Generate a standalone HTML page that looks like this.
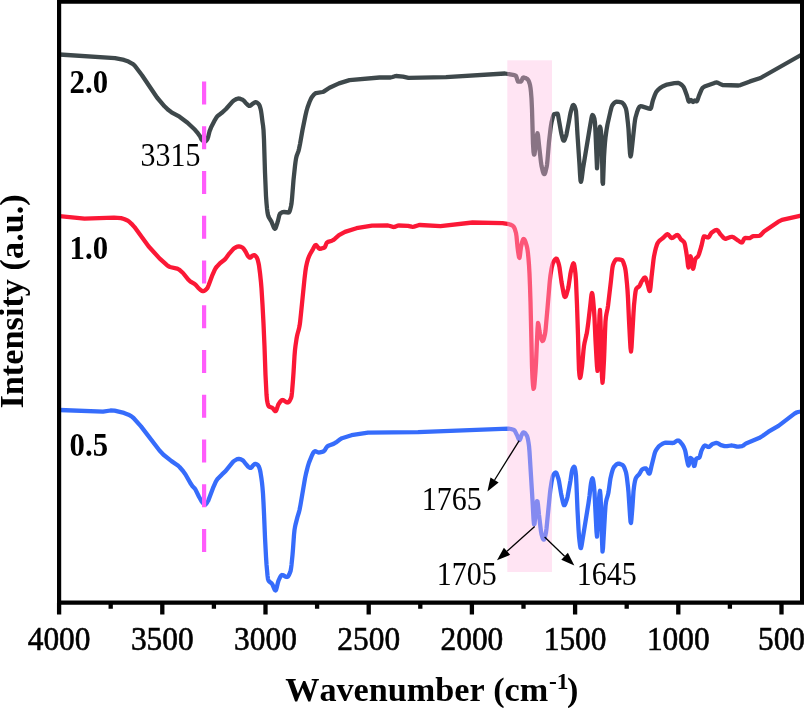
<!DOCTYPE html>
<html><head><meta charset="utf-8"><title>FTIR spectra</title>
<style>html,body{margin:0;padding:0;background:#fff}svg{display:block;will-change:transform;opacity:.999}.ls{font-family:"Liberation Serif",serif;font-kerning:none;fill:#000}</style></head>
<body>
<svg width="804" height="708" viewBox="0 0 804 708">
<rect width="804" height="708" fill="#fff"/>
<path d="M59.5 54.5 L115.0 58.1 L124.0 59.9 L128.5 61.6 L132.5 63.8 L133.5 64.5 L135.0 66.0 L142.0 75.3 L157.0 97.5 L164.5 106.3 L168.5 110.1 L171.5 112.3 L179.5 116.7 L187.5 122.7 L195.0 129.8 L198.0 133.4 L200.0 136.2 L201.0 138.5 L201.5 139.4 L202.5 140.4 L203.5 141.1 L204.0 141.3 L204.5 141.5 L205.0 141.5 L205.5 141.3 L206.0 140.9 L207.0 139.6 L207.5 138.8 L208.0 137.4 L209.5 131.4 L211.0 127.6 L215.0 119.8 L216.5 117.4 L217.5 116.2 L219.0 114.9 L221.5 113.1 L226.0 109.0 L232.5 101.6 L234.0 100.3 L236.5 99.0 L238.0 98.6 L239.0 98.5 L240.0 98.7 L242.5 99.7 L243.0 100.0 L244.0 100.9 L245.5 102.7 L248.0 105.1 L248.5 105.5 L249.0 105.8 L249.5 105.9 L250.0 105.8 L250.5 105.6 L252.5 103.8 L254.5 102.6 L255.0 102.3 L255.5 102.2 L256.0 102.2 L256.5 102.4 L257.0 102.6 L258.0 103.4 L259.0 104.5 L259.5 105.4 L260.0 106.8 L260.5 108.6 L261.0 110.7 L261.5 114.0 L262.5 121.9 L263.0 125.3 L263.5 129.9 L264.0 139.8 L265.0 172.5 L266.0 196.1 L266.5 203.1 L267.0 208.4 L267.5 212.5 L268.0 215.0 L268.5 216.5 L269.0 217.6 L271.0 220.8 L271.5 221.8 L273.5 226.8 L274.0 227.8 L274.5 228.5 L275.0 228.8 L275.5 228.3 L276.0 227.2 L277.5 222.5 L278.0 220.7 L279.0 216.4 L279.5 214.7 L280.0 213.8 L281.0 213.0 L282.0 212.4 L283.0 212.1 L284.0 212.0 L288.5 212.5 L289.0 212.4 L289.5 211.6 L290.0 210.2 L291.0 206.2 L291.5 203.5 L292.0 198.8 L293.5 180.0 L295.0 166.0 L295.5 162.0 L296.0 158.7 L296.5 156.5 L297.0 154.9 L298.5 150.9 L299.0 149.0 L300.0 144.1 L302.5 130.0 L305.5 115.2 L306.5 111.0 L307.5 107.5 L309.5 102.0 L311.0 98.6 L312.0 96.9 L313.5 95.1 L314.5 94.1 L315.5 93.3 L316.0 93.1 L322.5 92.0 L324.0 91.4 L329.5 87.8 L339.0 83.4 L349.5 80.1 L379.5 77.5 L390.5 77.5 L392.5 77.0 L395.0 76.2 L396.0 76.0 L403.0 76.6 L408.5 77.9 L446.0 77.2 L505.0 73.5 L513.0 74.8 L515.0 75.4 L515.5 75.6 L516.0 76.0 L516.5 77.1 L517.5 80.4 L518.0 81.5 L518.5 81.7 L520.5 81.7 L521.0 81.6 L521.5 80.9 L522.5 78.5 L523.0 77.7 L523.5 77.5 L524.5 77.7 L525.5 78.0 L527.0 78.8 L527.5 79.2 L528.0 79.7 L528.5 80.6 L529.0 81.7 L529.5 83.2 L530.0 85.0 L530.5 87.8 L531.0 92.3 L531.5 98.7 L532.0 109.4 L533.0 143.6 L533.5 151.8 L534.0 154.7 L534.5 154.2 L535.0 150.5 L535.5 145.7 L536.5 138.0 L537.0 134.7 L537.5 133.3 L538.0 135.3 L539.0 145.0 L541.0 162.4 L541.5 165.7 L542.5 170.1 L543.0 172.0 L543.5 173.4 L544.0 174.1 L544.5 174.1 L545.0 173.2 L545.5 171.7 L546.5 167.6 L547.0 164.8 L547.5 160.0 L549.0 141.9 L550.5 129.1 L551.0 125.5 L551.5 122.6 L552.5 118.4 L553.0 116.5 L553.5 115.1 L554.0 114.3 L554.5 114.1 L556.5 113.7 L557.5 113.7 L558.0 114.9 L561.0 131.8 L561.5 134.2 L562.5 138.1 L563.0 139.8 L563.5 140.7 L564.0 140.7 L564.5 140.0 L565.0 138.9 L566.0 136.1 L566.5 134.2 L569.0 121.2 L570.0 115.4 L570.5 112.9 L572.0 107.4 L572.5 106.0 L573.0 105.2 L573.5 105.0 L574.0 105.4 L574.5 106.2 L575.0 107.4 L575.5 108.9 L576.0 111.2 L576.5 117.6 L577.5 135.0 L579.5 164.8 L580.0 173.8 L580.5 180.6 L581.0 181.8 L581.5 179.9 L582.0 176.6 L583.0 168.7 L589.5 129.4 L591.5 117.9 L592.0 115.8 L592.5 115.0 L593.0 115.3 L593.5 116.1 L594.0 117.4 L594.5 119.2 L595.0 122.8 L595.5 132.3 L597.0 168.3 L597.5 161.6 L598.0 149.0 L598.5 140.6 L599.0 134.0 L599.5 128.8 L600.0 126.7 L600.5 128.0 L601.0 131.6 L601.5 137.3 L602.0 152.1 L602.5 182.1 L603.0 183.8 L604.0 157.2 L604.5 149.0 L605.0 142.7 L605.5 137.5 L606.5 130.1 L607.5 124.4 L610.5 111.1 L611.5 107.3 L612.0 105.9 L612.5 105.0 L614.0 103.2 L615.0 102.3 L615.5 102.0 L616.0 101.8 L616.5 101.7 L619.0 101.9 L621.5 102.4 L622.0 102.6 L622.5 102.9 L623.0 103.4 L623.5 103.9 L624.5 105.5 L625.5 107.6 L626.0 108.9 L626.5 111.4 L627.0 114.9 L628.0 123.8 L628.5 129.0 L629.5 146.0 L630.0 153.4 L630.5 156.5 L631.0 155.1 L631.5 151.7 L634.5 124.0 L635.0 120.2 L635.5 117.5 L637.0 112.3 L638.0 109.5 L638.5 108.4 L639.0 107.5 L639.5 106.8 L640.0 106.4 L640.5 106.2 L642.0 106.4 L649.0 108.6 L650.5 108.8 L651.0 108.1 L651.5 106.4 L652.5 101.8 L653.0 100.0 L655.0 94.6 L656.0 92.4 L656.5 91.6 L658.0 89.8 L660.0 88.1 L662.5 86.5 L667.0 84.6 L674.5 83.2 L678.0 83.0 L678.5 83.0 L679.5 83.4 L680.5 84.0 L682.5 85.7 L683.0 86.2 L683.5 86.9 L684.0 87.8 L685.0 90.2 L687.0 95.7 L688.0 99.5 L688.5 101.0 L689.0 101.6 L689.5 101.3 L690.5 100.2 L691.0 100.0 L691.5 100.3 L692.5 101.7 L693.0 102.0 L693.5 101.8 L694.5 100.7 L695.0 100.4 L695.5 100.6 L696.0 101.1 L696.5 101.4 L697.0 101.1 L697.5 100.1 L699.0 95.6 L701.5 89.7 L702.0 88.8 L702.5 88.0 L703.0 87.5 L704.5 86.6 L714.5 82.9 L716.0 82.5 L717.0 82.5 L718.0 82.8 L721.5 84.6 L722.5 85.0 L738.5 85.5 L740.5 85.1 L750.0 81.4 L760.5 78.0 L801.0 55.0" fill="none" stroke="#3e484b" stroke-width="4.3" stroke-linejoin="round" stroke-linecap="butt"/>
<path d="M59.5 216.2 L84.5 218.7 L114.0 217.6 L121.0 218.1 L124.0 219.0 L127.5 220.5 L129.0 221.5 L131.5 223.8 L134.5 227.1 L148.5 246.2 L159.5 258.4 L167.0 265.2 L168.5 266.3 L170.0 267.0 L177.0 268.6 L178.0 269.0 L179.5 269.9 L183.0 273.0 L188.5 279.8 L189.5 280.8 L191.0 281.9 L194.5 283.9 L195.5 284.7 L198.5 288.2 L201.0 290.3 L202.0 291.0 L202.5 291.1 L203.0 291.2 L203.5 291.1 L204.0 291.0 L205.0 290.4 L206.5 289.1 L207.0 288.6 L207.5 287.8 L208.5 285.5 L212.5 274.8 L214.5 270.3 L215.5 268.4 L217.0 266.4 L220.0 263.3 L224.5 259.8 L225.5 258.7 L229.5 253.3 L233.0 249.3 L234.0 248.4 L236.5 247.0 L237.5 246.6 L238.5 246.4 L239.5 246.5 L240.5 246.7 L242.5 247.7 L243.0 248.0 L243.5 248.5 L244.5 249.9 L246.0 252.4 L247.5 255.4 L248.0 256.2 L249.0 257.1 L249.5 257.5 L250.0 257.7 L250.5 257.6 L251.0 257.2 L252.0 256.0 L253.0 255.5 L253.5 255.3 L254.0 255.2 L254.5 255.2 L255.0 255.5 L255.5 255.9 L256.5 257.1 L257.0 257.9 L257.5 259.2 L258.0 260.9 L258.5 263.0 L259.0 265.5 L260.0 273.1 L261.0 282.5 L261.5 288.7 L262.5 304.7 L263.5 323.6 L264.5 346.5 L265.5 375.0 L266.5 394.5 L267.0 400.0 L267.5 402.7 L268.0 404.7 L268.5 405.9 L269.0 406.5 L269.5 406.8 L272.0 407.7 L272.5 408.0 L273.0 408.5 L274.5 410.6 L275.0 411.1 L275.5 411.2 L276.0 410.9 L276.5 409.9 L278.0 405.4 L278.5 404.2 L280.0 402.0 L281.0 400.8 L281.5 400.4 L282.0 400.1 L282.5 400.0 L283.0 400.1 L283.5 400.3 L286.0 402.0 L286.5 402.2 L287.0 402.4 L287.5 402.5 L288.0 402.4 L288.5 402.1 L289.0 401.7 L289.5 401.0 L290.0 400.2 L291.0 398.1 L291.5 396.4 L292.0 392.2 L293.0 380.0 L293.5 372.8 L294.5 356.2 L295.0 350.0 L295.5 345.7 L296.5 339.0 L297.0 336.2 L297.5 334.0 L299.0 328.7 L299.5 326.2 L300.0 322.9 L301.0 313.4 L304.5 278.9 L305.5 270.6 L306.0 267.3 L307.0 262.6 L308.0 259.1 L309.0 256.4 L310.0 254.3 L313.0 249.1 L314.5 246.2 L315.0 245.5 L315.5 245.1 L316.0 245.0 L316.5 245.4 L317.0 245.9 L318.5 248.1 L319.0 248.6 L319.5 248.8 L321.5 248.5 L323.5 247.9 L324.5 247.5 L325.0 246.9 L326.5 243.2 L327.0 242.5 L328.0 241.9 L332.0 240.7 L333.0 240.2 L335.0 238.7 L339.0 235.2 L345.0 231.9 L356.5 228.2 L372.0 225.6 L388.0 225.5 L390.0 226.0 L392.5 226.8 L393.5 227.0 L394.5 226.9 L397.5 225.7 L398.5 225.5 L408.0 225.8 L411.5 226.7 L412.5 226.8 L414.0 226.6 L418.5 225.2 L420.0 225.0 L440.5 226.2 L472.5 222.5 L502.5 223.1 L509.0 224.2 L511.0 224.9 L512.5 225.7 L513.0 226.0 L513.5 226.5 L514.0 227.3 L514.5 228.3 L515.0 229.6 L516.0 233.0 L516.5 236.3 L517.5 246.8 L518.0 251.0 L518.5 254.3 L519.0 257.1 L519.5 257.9 L520.0 255.1 L520.5 250.6 L521.0 247.0 L522.0 242.7 L522.5 240.9 L523.0 239.6 L523.5 239.0 L524.0 239.1 L524.5 239.7 L525.0 240.6 L525.5 241.9 L526.5 245.1 L527.0 247.0 L527.5 249.7 L528.0 253.6 L528.5 258.8 L529.0 265.0 L529.5 273.9 L530.0 286.5 L530.5 301.7 L532.0 366.3 L532.5 378.4 L533.0 385.4 L533.5 388.9 L534.0 387.9 L534.5 383.9 L535.5 371.4 L536.0 362.8 L537.5 329.1 L538.0 323.0 L538.5 324.4 L539.5 331.2 L540.0 334.0 L541.0 337.7 L541.5 339.3 L542.0 340.4 L542.5 341.0 L543.0 340.7 L543.5 339.8 L544.0 338.2 L545.0 334.0 L545.5 330.6 L547.5 308.2 L549.5 284.4 L550.0 279.2 L550.5 275.0 L551.5 268.9 L552.0 266.4 L552.5 264.4 L553.0 263.0 L554.0 261.0 L555.0 259.5 L555.5 259.0 L556.0 258.7 L556.5 258.6 L557.0 259.1 L557.5 260.1 L558.5 263.2 L559.0 265.0 L559.5 267.4 L561.5 282.0 L563.5 292.9 L564.0 295.0 L564.5 296.5 L565.0 297.0 L565.5 296.7 L566.0 295.7 L566.5 294.4 L568.0 289.0 L568.5 286.7 L570.5 273.4 L571.0 271.0 L572.0 267.0 L572.5 265.3 L573.0 264.0 L573.5 263.4 L574.0 264.0 L574.5 266.2 L575.0 269.7 L575.5 274.1 L576.0 280.8 L577.0 305.0 L578.0 335.0 L578.5 354.9 L579.0 370.0 L579.5 375.6 L580.0 378.0 L580.5 376.8 L581.0 374.1 L582.0 366.8 L583.5 350.2 L584.0 346.0 L584.5 343.1 L586.5 334.6 L587.0 332.0 L588.0 324.9 L590.5 303.5 L591.0 298.6 L591.5 294.6 L592.0 293.0 L592.5 294.5 L593.0 298.5 L594.0 310.0 L594.5 318.1 L595.5 340.4 L596.5 358.6 L597.0 366.6 L597.5 370.9 L598.0 362.5 L598.5 342.9 L599.5 315.8 L600.0 310.0 L600.5 321.2 L602.0 377.0 L602.5 382.8 L603.0 378.3 L604.0 360.0 L604.5 347.5 L605.0 332.4 L605.5 321.2 L606.0 316.6 L606.5 313.6 L607.5 308.9 L608.0 306.0 L611.0 280.5 L612.0 271.0 L612.5 267.3 L613.0 265.0 L614.0 262.5 L615.0 260.7 L615.5 260.0 L616.0 259.5 L616.5 259.3 L619.0 259.4 L621.5 259.9 L622.0 260.1 L622.5 260.6 L623.0 261.5 L623.5 262.7 L624.5 265.7 L625.0 267.5 L625.5 270.0 L626.0 273.7 L627.0 283.9 L627.5 290.0 L628.0 298.4 L629.0 320.3 L630.0 339.7 L630.5 348.0 L631.0 351.5 L631.5 347.6 L633.5 312.9 L634.0 305.3 L635.0 295.6 L635.5 291.9 L636.0 289.4 L636.5 288.4 L637.0 287.9 L638.5 286.9 L639.0 286.5 L639.5 285.9 L640.0 285.0 L641.5 281.7 L643.5 278.6 L644.0 278.0 L644.5 277.6 L645.0 277.5 L645.5 277.9 L646.0 279.0 L647.5 283.8 L648.0 285.6 L649.0 289.8 L649.5 291.1 L650.0 290.8 L650.5 287.5 L651.5 277.2 L653.5 259.8 L654.0 256.4 L655.0 251.6 L656.0 247.6 L657.0 244.5 L657.5 243.4 L658.0 242.5 L659.0 241.2 L660.5 239.9 L663.0 238.0 L665.5 235.4 L666.5 234.6 L667.0 234.3 L667.5 234.2 L668.0 234.4 L668.5 234.8 L670.5 237.2 L671.0 237.7 L671.5 238.0 L672.0 238.0 L672.5 237.9 L673.5 237.3 L676.0 235.5 L676.5 235.2 L677.0 235.1 L677.5 235.0 L678.0 235.2 L678.5 235.7 L680.5 238.9 L681.0 239.5 L682.0 240.3 L683.0 241.1 L683.5 241.5 L684.0 242.1 L684.5 243.0 L685.0 244.9 L686.0 250.4 L687.0 256.8 L688.0 265.6 L688.5 267.5 L689.0 265.7 L690.0 258.0 L690.5 256.2 L691.0 257.6 L691.5 260.6 L692.0 264.4 L692.5 267.4 L693.0 268.8 L693.5 267.8 L694.0 265.6 L695.0 260.3 L695.5 258.8 L696.0 258.1 L697.5 256.9 L698.0 256.2 L698.5 255.3 L699.0 254.0 L701.0 247.5 L701.5 245.7 L703.0 239.0 L703.5 237.3 L704.0 236.4 L704.5 236.3 L705.5 236.6 L707.0 237.3 L707.5 237.4 L708.0 237.5 L708.5 237.3 L709.0 236.8 L711.0 233.4 L711.5 232.7 L714.0 230.9 L715.0 230.4 L716.0 230.1 L716.5 230.0 L717.0 230.0 L717.5 230.3 L718.0 230.8 L720.5 234.4 L723.5 237.7 L724.5 238.4 L725.0 238.7 L725.5 238.8 L726.5 238.6 L730.5 237.0 L731.5 236.8 L732.0 236.8 L732.5 236.9 L733.5 237.3 L738.0 240.4 L740.0 241.9 L741.0 242.4 L741.5 242.5 L742.0 242.4 L742.5 241.9 L744.0 239.0 L744.5 238.3 L745.0 238.0 L749.0 238.2 L749.5 238.2 L750.0 238.1 L752.0 236.7 L752.5 236.4 L753.0 236.2 L759.0 235.8 L759.5 235.7 L760.0 235.5 L761.0 234.7 L764.0 231.5 L778.0 221.9 L782.0 219.9 L801.0 215.6 L801.8 215.5" fill="none" stroke="#fb1836" stroke-width="4.3" stroke-linejoin="round" stroke-linecap="butt"/>
<path d="M59.5 410.0 L103.0 411.7 L110.5 410.5 L114.5 410.7 L124.0 412.9 L128.5 414.7 L131.5 416.4 L133.5 418.0 L141.0 426.4 L159.5 450.5 L163.5 454.7 L171.5 461.1 L177.5 465.2 L179.5 467.0 L183.0 471.0 L185.5 474.5 L191.0 484.1 L192.5 486.2 L194.5 488.2 L195.0 488.8 L195.5 489.6 L199.0 496.8 L201.5 501.2 L202.5 502.6 L204.0 504.2 L204.5 504.6 L205.0 504.7 L205.5 504.5 L206.0 504.1 L207.0 502.7 L208.0 501.0 L208.5 500.1 L213.5 486.8 L215.5 482.3 L216.5 480.4 L217.5 479.0 L222.0 474.4 L225.5 471.2 L233.0 461.9 L234.0 461.0 L236.5 459.5 L237.5 459.1 L238.5 458.9 L239.5 459.0 L240.5 459.2 L243.0 460.5 L243.5 461.0 L246.0 464.2 L248.0 466.5 L248.5 466.9 L249.0 467.3 L250.0 467.8 L250.5 467.9 L251.0 467.8 L251.5 467.4 L252.5 466.1 L254.0 464.6 L254.5 464.2 L255.0 463.9 L255.5 463.9 L256.5 464.2 L257.5 464.8 L258.0 465.2 L258.5 465.9 L259.0 467.0 L259.5 468.3 L260.0 470.0 L260.5 472.5 L261.5 478.9 L262.0 482.8 L262.5 487.6 L263.0 493.9 L263.5 502.8 L264.0 513.3 L265.0 537.5 L266.0 556.7 L266.5 564.4 L267.5 575.5 L268.0 579.1 L268.5 580.5 L269.0 581.2 L269.5 581.7 L271.5 583.2 L272.0 583.8 L272.5 584.6 L274.5 589.4 L275.0 590.2 L275.5 590.5 L276.0 590.0 L276.5 588.6 L278.0 582.3 L278.5 580.6 L280.0 577.4 L280.5 576.4 L281.0 575.7 L281.5 575.2 L282.0 575.0 L282.5 575.1 L283.5 575.4 L285.5 576.6 L286.5 576.9 L287.0 577.0 L287.5 576.9 L288.0 576.5 L288.5 575.8 L289.0 574.9 L290.0 572.6 L290.5 571.2 L291.0 568.8 L291.5 564.9 L292.5 555.0 L293.0 549.0 L294.0 534.9 L294.5 530.0 L295.0 527.0 L295.5 524.6 L297.5 516.9 L299.0 512.0 L299.5 510.0 L300.5 504.8 L305.0 478.4 L306.0 473.6 L308.0 465.8 L309.0 462.6 L312.0 455.2 L313.0 453.2 L313.5 452.4 L314.0 451.8 L314.5 451.4 L315.0 451.2 L315.5 451.3 L318.0 452.4 L318.5 452.5 L320.0 452.4 L322.0 451.9 L323.5 451.4 L324.0 451.1 L324.5 450.6 L326.5 447.4 L327.0 446.7 L327.5 446.2 L329.0 445.5 L333.5 443.9 L336.0 442.4 L340.5 439.1 L342.0 438.2 L351.5 435.2 L368.0 432.6 L418.0 432.2 L508.5 428.6 L511.0 429.0 L513.5 429.8 L514.0 430.0 L514.5 430.4 L515.0 431.1 L517.5 436.1 L518.5 438.6 L519.0 439.5 L519.5 440.0 L520.0 439.6 L520.5 438.3 L521.0 436.6 L521.5 435.2 L522.5 433.4 L523.0 432.7 L523.5 432.4 L524.0 432.5 L524.5 432.7 L525.0 433.1 L525.5 433.6 L526.5 435.1 L527.0 436.0 L527.5 437.4 L528.0 439.6 L528.5 442.5 L529.0 446.0 L529.5 451.7 L532.5 500.3 L533.5 518.9 L534.0 524.4 L534.5 524.0 L535.0 519.0 L535.5 512.9 L536.5 504.1 L537.0 501.1 L537.5 501.5 L538.0 504.9 L539.0 515.0 L541.0 531.4 L541.5 534.2 L542.5 537.6 L543.0 538.8 L543.5 539.6 L544.0 539.6 L544.5 538.6 L545.0 536.9 L546.0 532.2 L546.5 528.5 L550.0 493.0 L550.5 488.8 L551.5 482.4 L552.0 479.7 L552.5 477.4 L553.0 475.7 L553.5 474.7 L554.5 473.3 L555.0 472.8 L555.5 472.5 L556.0 472.6 L556.5 473.2 L557.0 474.3 L558.5 479.0 L559.0 481.2 L561.0 493.2 L561.5 495.8 L563.0 502.5 L563.5 504.2 L564.0 505.2 L564.5 505.2 L565.0 504.5 L565.5 503.4 L567.0 499.0 L567.5 497.0 L570.5 480.3 L571.5 473.7 L572.0 471.0 L572.5 469.2 L573.0 468.1 L573.5 467.2 L574.0 466.7 L574.5 467.0 L575.0 468.6 L575.5 471.3 L576.0 475.4 L576.5 485.3 L577.5 510.0 L578.5 528.9 L579.0 536.2 L579.5 541.0 L580.0 545.1 L580.5 547.8 L581.0 548.1 L581.5 546.1 L588.5 503.1 L589.5 496.0 L590.5 487.0 L591.0 483.2 L591.5 480.9 L592.0 479.1 L592.5 478.3 L593.0 479.5 L593.5 482.4 L594.0 486.5 L594.5 492.1 L596.5 531.8 L597.0 536.7 L597.5 529.6 L598.0 516.2 L598.5 507.0 L599.0 499.3 L599.5 493.3 L600.0 490.8 L600.5 495.4 L601.0 505.6 L601.5 519.4 L602.0 540.5 L602.5 551.7 L603.0 548.0 L605.0 513.4 L605.5 506.1 L606.0 502.1 L606.5 499.7 L608.0 494.6 L608.5 492.2 L610.0 481.4 L610.5 478.2 L611.5 473.9 L612.5 470.4 L613.0 469.0 L613.5 467.8 L614.0 467.0 L615.5 465.3 L616.5 464.4 L617.5 463.8 L618.0 463.7 L619.0 463.7 L620.5 464.1 L622.5 465.0 L623.0 465.4 L623.5 466.1 L624.0 466.9 L625.0 469.3 L626.0 472.4 L626.5 475.0 L627.0 478.4 L628.0 487.1 L628.5 492.3 L630.0 515.0 L630.5 521.7 L631.0 523.0 L631.5 518.7 L632.5 506.1 L633.5 491.3 L634.0 486.9 L634.5 483.6 L635.0 481.0 L635.5 479.1 L636.0 477.9 L636.5 477.1 L637.5 475.9 L639.0 474.5 L639.5 473.8 L641.5 470.2 L642.0 469.6 L642.5 469.2 L644.0 468.6 L645.0 468.4 L645.5 468.3 L646.0 468.4 L646.5 468.9 L647.0 469.8 L648.0 472.1 L648.5 473.1 L649.0 473.7 L649.5 473.6 L650.0 472.4 L650.5 470.5 L651.5 466.0 L654.5 454.0 L655.0 452.4 L655.5 451.2 L657.0 448.7 L658.5 446.7 L659.5 445.7 L662.5 443.8 L664.5 442.9 L666.0 442.6 L673.0 443.0 L673.5 442.9 L674.0 442.7 L676.5 441.0 L677.0 440.8 L677.5 440.6 L678.0 440.5 L678.5 440.6 L679.0 440.8 L680.0 441.7 L682.0 444.1 L683.0 445.5 L684.0 447.5 L685.0 450.0 L685.5 452.0 L687.0 460.0 L688.0 464.5 L688.5 465.5 L689.0 464.3 L690.0 459.2 L690.5 458.0 L691.0 458.2 L691.5 458.6 L692.5 460.0 L693.0 461.6 L693.5 464.1 L694.0 466.0 L694.5 465.9 L695.0 464.0 L695.5 461.4 L696.0 459.2 L696.5 458.6 L697.0 458.3 L698.5 457.9 L699.0 457.7 L699.5 457.2 L700.0 455.9 L701.0 452.2 L701.5 450.6 L703.0 447.6 L703.5 446.8 L704.0 446.1 L704.5 445.7 L705.0 445.5 L705.5 445.6 L707.5 446.7 L708.0 446.9 L708.5 447.0 L709.0 446.9 L709.5 446.6 L712.0 444.3 L712.5 444.0 L715.0 443.2 L716.5 443.0 L717.0 443.0 L717.5 443.1 L718.5 443.6 L721.0 445.2 L724.5 446.1 L727.0 446.2 L731.0 445.5 L732.0 445.5 L734.0 445.9 L737.0 446.7 L738.5 446.7 L742.0 446.2 L743.0 445.7 L746.0 443.4 L759.0 438.1 L762.5 436.0 L768.5 431.7 L778.5 425.9 L794.5 413.6 L796.5 412.5 L798.0 412.0 L801.0 411.5 L801.8 411.5" fill="none" stroke="#366cfb" stroke-width="4.3" stroke-linejoin="round" stroke-linecap="butt"/>
<rect x="507.3" y="60.3" width="44.7" height="511.7" fill="#ffbae0" fill-opacity="0.39"/>
<path d="M204.1 81.4V552.3" stroke="#ff5cfb" stroke-width="4.2" stroke-dasharray="23 21.77" fill="none"/>
<path d="M57 0H804V604.8H57Z M61.2 3.8V600.6H800V3.8Z" fill="#000" fill-rule="evenodd"/>
<path d="M59.1 603V614.6 M162.3 603V614.6 M265.5 603V614.6 M368.7 603V614.6 M471.9 603V614.6 M575.1 603V614.6 M678.3 603V614.6 M781.5 603V614.6 M110.7 603V608.8 M213.9 603V608.8 M317.1 603V608.8 M420.3 603V608.8 M523.5 603V608.8 M626.7 603V608.8 M729.9 603V608.8 " stroke="#000" stroke-width="4.3" fill="none"/>
<text class="ls" transform="translate(59.1 650.4) scale(1.03 1.12)" font-size="30.5" text-anchor="middle" stroke="#000" stroke-width="0.55">4000</text>
<text class="ls" transform="translate(162.3 650.4) scale(1.03 1.12)" font-size="30.5" text-anchor="middle" stroke="#000" stroke-width="0.55">3500</text>
<text class="ls" transform="translate(265.5 650.4) scale(1.03 1.12)" font-size="30.5" text-anchor="middle" stroke="#000" stroke-width="0.55">3000</text>
<text class="ls" transform="translate(368.7 650.4) scale(1.03 1.12)" font-size="30.5" text-anchor="middle" stroke="#000" stroke-width="0.55">2500</text>
<text class="ls" transform="translate(471.9 650.4) scale(1.03 1.12)" font-size="30.5" text-anchor="middle" stroke="#000" stroke-width="0.55">2000</text>
<text class="ls" transform="translate(575.1 650.4) scale(1.03 1.12)" font-size="30.5" text-anchor="middle" stroke="#000" stroke-width="0.55">1500</text>
<text class="ls" transform="translate(678.3 650.4) scale(1.03 1.12)" font-size="30.5" text-anchor="middle" stroke="#000" stroke-width="0.55">1000</text>
<text class="ls" transform="translate(781.5 650.4) scale(1.03 1.12)" font-size="30.5" text-anchor="middle" stroke="#000" stroke-width="0.55">500</text>
<text class="ls" transform="translate(140.6 165.8) scale(1.0 1.09)" font-size="30" text-anchor="start">3315</text>
<text class="ls" transform="translate(421.8 510.2) scale(1.0 1.09)" font-size="30" text-anchor="start">1765</text>
<text class="ls" transform="translate(436.8 585.2) scale(1.0 1.09)" font-size="30" text-anchor="start">1705</text>
<text class="ls" transform="translate(576.8 585.2) scale(1.0 1.09)" font-size="30" text-anchor="start">1645</text>
<text class="ls" transform="translate(69.6 92.9) scale(1.025 1.145)" font-size="30" text-anchor="start" font-weight="bold">2.0</text>
<text class="ls" transform="translate(69.6 259.3) scale(1.025 1.145)" font-size="30" text-anchor="start" font-weight="bold">1.0</text>
<text class="ls" transform="translate(69.6 455.5) scale(1.025 1.145)" font-size="30" text-anchor="start" font-weight="bold">0.5</text>
<path d="M519.2 440.6L494.6 480.0" stroke="#000" stroke-width="1.3" fill="none"/><path d="M487.4 491.4L490.5 477.4L498.6 482.5Z" fill="#000"/>
<path d="M534.7 526.4L507.0 551.3" stroke="#000" stroke-width="1.3" fill="none"/><path d="M497.0 560.3L503.9 547.7L510.2 554.8Z" fill="#000"/>
<path d="M544.6 537.0L564.6 556.2" stroke="#000" stroke-width="1.3" fill="none"/><path d="M574.3 565.6L561.3 559.7L567.9 552.8Z" fill="#000"/>
<text class="ls" x="285.2" y="701.2" font-size="34.2" font-weight="bold">Wavenumber (cm<tspan font-size="23.5" dy="-12.7" dx="0.8">-1</tspan><tspan dy="12.7" dx="-1.6">)</tspan></text>
<text class="ls" transform="translate(23.3 408.6) rotate(-90)" font-size="34.3" font-weight="bold">Intensity (a.u.)</text>
</svg>
</body></html>
